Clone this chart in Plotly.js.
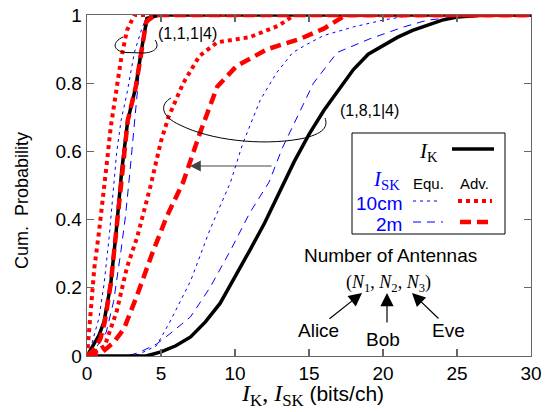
<!DOCTYPE html>
<html><head><meta charset="utf-8">
<script src="https://cdn.plot.ly/plotly-3.0.1.min.js"></script>
<style>html,body{margin:0;padding:0;background:#fff}#chart{width:545px;height:412px}</style>
</head><body><div id="chart"></div>
<script>
// ---- data: (1,1,1|4) ----
const x_K_111 = [0,0.4,0.8,1.15,1.6,1.95,2.35,2.75,3.3,3.65,4.05,4.9,30];
const y_K_111 = [0,0.03,0.06,0.10,0.21,0.355,0.545,0.69,0.79,0.89,0.99,1,1];
const x_adv2m_111 = [0,0.5,0.9,1.2,1.6,1.95,2.35,2.75,3.3,3.65,4.0,4.6,30];
const y_adv2m_111 = [0,0.02,0.05,0.10,0.21,0.355,0.545,0.69,0.79,0.89,0.98,1,1];
const x_equ2m_111 = [0,0.7,1.3,1.8,2.3,2.6,2.9,3.2,3.5,3.9,4.3,30];
const y_equ2m_111 = [0,0.03,0.07,0.16,0.31,0.41,0.54,0.67,0.82,0.95,1,1];
const x_equ10_111 = [0,0.35,0.8,1.15,1.5,1.7,2.0,2.3,2.7,3.2,3.7,4.1,30];
const y_equ10_111 = [0,0.04,0.11,0.21,0.35,0.45,0.595,0.69,0.77,0.89,0.96,1,1];
const x_adv10_111 = [0,0.1,0.3,0.5,0.8,1.0,1.3,1.6,1.95,2.3,2.7,3.2,30];
const y_adv10_111 = [0,0.06,0.16,0.26,0.36,0.43,0.55,0.67,0.77,0.87,0.955,1,1];
// ---- data: (1,8,1|4) ----
const x_K_181 = [0,4,5,6,7,8,9,10,11,12,13,14,15,16,17,18,19,20,21,22,23,24,25,26,27,28,30];
const y_K_181 = [0,0,0.012,0.03,0.056,0.1,0.155,0.23,0.31,0.39,0.48,0.57,0.65,0.72,0.78,0.84,0.885,0.91,0.935,0.955,0.97,0.985,0.994,0.998,1,1,1];
const x_adv10_181 = [0,0.5,1.2,2,2.7,3.4,4.3,5,5.5,6.5,7.6,8.8,11,13,14,30];
const y_adv10_181 = [0,0.01,0.03,0.13,0.26,0.35,0.50,0.63,0.70,0.80,0.88,0.92,0.935,0.97,1,1];
const x_adv2m_181 = [0,1,1.8,2.5,3.4,4.4,5.4,6.5,7.6,8.8,10.1,12.2,14.4,16,17.5,30];
const y_adv2m_181 = [0,0.01,0.04,0.08,0.18,0.30,0.41,0.51,0.65,0.79,0.85,0.90,0.93,0.96,1,1];
const x_equ10_181 = [0,2.5,3.5,4.7,5.6,7,8.3,9.7,10.5,11.7,12.8,13.9,14.9,16,18,20,22,30];
const y_equ10_181 = [0,0,0.005,0.03,0.10,0.22,0.37,0.51,0.62,0.75,0.83,0.89,0.915,0.94,0.965,0.985,1,1];
const x_equ2m_181 = [0,2.7,3.5,4.7,5.6,7,8.3,9.7,11,12.3,13.2,14.4,15.3,16.9,19.1,21.4,23,25,27,30];
const y_equ2m_181 = [0,0,0.01,0.035,0.065,0.115,0.2,0.31,0.42,0.51,0.61,0.72,0.80,0.89,0.93,0.965,0.985,0.994,1,1];
const xTicks = [0,5,10,15,20,25,30];
const yTicks = [0,0.2,0.4,0.6,0.8,1];
const yTickText = ['0','0.2','0.4','0.6','0.8','1'];

const BLUE='#0000ff', RED='#ff0000';
const sEqu10 = {color:BLUE,width:1,dash:'3px,4px'};
const sEqu2m = {color:BLUE,width:1,dash:'8px,6px'};
const sAdv10 = {color:RED,width:4,dash:'4px,4px'};
const sAdv2m = {color:RED,width:4.5,dash:'11px,6px'};
const sK = {color:'#000',width:3.5};

function tr(x,y,line){return {x:x,y:y,type:'scatter',mode:'lines',line:line,hoverinfo:'skip',cliponaxis:false};}
const data = [
  tr(x_equ10_181,y_equ10_181,sEqu10), tr(x_equ2m_181,y_equ2m_181,sEqu2m),
  tr(x_equ10_111,y_equ10_111,sEqu10), tr(x_equ2m_111,y_equ2m_111,sEqu2m),
  tr(x_K_181,y_K_181,sK), tr(x_K_111,y_K_111,sK),
  tr(x_adv10_181,y_adv10_181,sAdv10), tr(x_adv2m_181,y_adv2m_181,sAdv2m),
  tr(x_adv10_111,y_adv10_111,sAdv10), tr(x_adv2m_111,y_adv2m_111,sAdv2m)
];

// pixel -> data helpers for decorations
const L=87,R=531,T=15,B=356;
const X=p=>(p-L)/(R-L)*30, Y=p=>(B-p)/(B-T);
function path(pts){
  return pts.map(c=>{const cmd=c[0];let s=cmd;for(let i=1;i<c.length;i+=2){s+=(i>1?' ':'')+X(c[i]).toFixed(4)+','+Y(c[i+1]).toFixed(4);}return s;}).join(' ');
}
const SERIF='Liberation Serif, DejaVu Serif, serif';
const SANS='Liberation Sans, Arial, sans-serif';
function txt(t,px,py,opt){return Object.assign({x:X(px),y:Y(py),xref:'x',yref:'y',text:t,showarrow:false,xanchor:'center',yanchor:'middle',font:{family:SANS,size:16,color:'#000'}},opt||{});}
function arrow(tipx,tipy,tailx,taily,opt){return Object.assign({x:X(tipx),y:Y(tipy),xref:'x',yref:'y',ax:tailx-tipx,ay:taily-tipy,text:'',showarrow:true,arrowhead:2,arrowsize:2.2,arrowwidth:1.2,arrowcolor:'#000',standoff:0,startstandoff:0},opt||{});}

const shapes = [
  {type:'path',xref:'x',yref:'y',path:path([['M',123,37],['C',112,42,112,51,126,52.5],['L',144,53],['C',158,52,159,45,155,40]]),line:{color:'#000',width:1}},
  {type:'path',xref:'x',yref:'y',path:path([['M',171,98],['C',160,104,160,116,180,125],['C',210,140,260,146,300,139],['C',325,134,328,126,325,118]]),line:{color:'#000',width:1}},
  {type:'rect',xref:'x',yref:'y',x0:X(352),x1:X(505),y0:Y(133),y1:Y(234),line:{color:'#000',width:1},fillcolor:'#fff',layer:'above'},
  {type:'line',xref:'x',yref:'y',x0:X(452),x1:X(494),y0:Y(149),y1:Y(149),line:sK},
  {type:'line',xref:'x',yref:'y',x0:X(413),x1:X(440),y0:Y(201),y1:Y(201),line:sEqu10},
  {type:'line',xref:'x',yref:'y',x0:X(458),x1:X(492),y0:Y(201),y1:Y(201),line:sAdv10},
  {type:'line',xref:'x',yref:'y',x0:X(413),x1:X(443),y0:Y(222),y1:Y(222),line:sEqu2m},
  {type:'line',xref:'x',yref:'y',x0:X(460),x1:X(492),y0:Y(222),y1:Y(222),line:sAdv2m}
];

const annotations = [
  txt('(1,1,1|4)',187,33),
  txt('(1,8,1|4)',369,110),
  arrow(190,166,273,166,{arrowcolor:'#444',arrowsize:1.8}),
  txt('<i>I</i><sub>K</sub>',440,152,{xanchor:'right',font:{family:SERIF,size:21,color:'#000'}}),
  txt('<i>I</i><sub>SK</sub>',402,180,{xanchor:'right',font:{family:SERIF,size:21,color:BLUE}}),
  txt('Equ.',428,183,{font:{family:SANS,size:15,color:'#000'}}),
  txt('Adv.',474,183,{font:{family:SANS,size:15,color:'#000'}}),
  txt('10cm',404,203,{xanchor:'right',font:{family:SANS,size:19,color:BLUE}}),
  txt('2m',404,224,{xanchor:'right',font:{family:SANS,size:19,color:BLUE}}),
  txt('Number of Antennas',390,255,{font:{family:SANS,size:19,color:'#000'}}),
  txt('(<i>N</i><sub>1</sub>, <i>N</i><sub>2</sub>, <i>N</i><sub>3</sub>)',388,283,{font:{family:SERIF,size:18,color:'#000'}}),
  arrow(362,293,328,320),
  arrow(387,293,387,324),
  arrow(412,293,440,320),
  txt('Alice',318,330,{font:{family:SANS,size:19,color:'#000'}}),
  txt('Bob',383,339,{font:{family:SANS,size:19,color:'#000'}}),
  txt('Eve',448,330,{font:{family:SANS,size:19,color:'#000'}}),
  {xref:'paper',yref:'paper',x:(22-L)/(R-L),y:(B-201)/(B-T),text:'Cum.  Probability',textangle:-90,showarrow:false,xanchor:'center',yanchor:'middle',font:{family:SANS,size:18,color:'#000'}},
  {xref:'paper',yref:'paper',x:(312-L)/(R-L),y:(B-395)/(B-T),text:'<span style="font-family:Liberation Serif;font-size:24px"><i>I</i><sub>K</sub>, <i>I</i><sub>SK</sub></span> (bits/ch)',showarrow:false,xanchor:'center',yanchor:'middle',font:{family:SANS,size:21,color:'#000'}}
];

const axisCommon = {showgrid:false,zeroline:false,showline:true,linecolor:'#666',linewidth:1.3,mirror:'ticks',ticks:'inside',ticklen:7,tickcolor:'#666',tickwidth:1.2,tickfont:{family:SANS,size:19,color:'#000'},fixedrange:true};
const layout = {
  width:545,height:412,margin:{l:L,r:545-R,t:T,b:412-B},
  paper_bgcolor:'#fff',plot_bgcolor:'#fff',showlegend:false,
  xaxis:Object.assign({},axisCommon,{range:[0,30],tickvals:xTicks,ticktext:xTicks.map(String)}),
  yaxis:Object.assign({},axisCommon,{range:[0,1],tickvals:yTicks,ticktext:yTickText}),
  shapes:shapes,annotations:annotations
};
Plotly.newPlot('chart',data,layout,{displayModeBar:false,staticPlot:true});
</script></body></html>
